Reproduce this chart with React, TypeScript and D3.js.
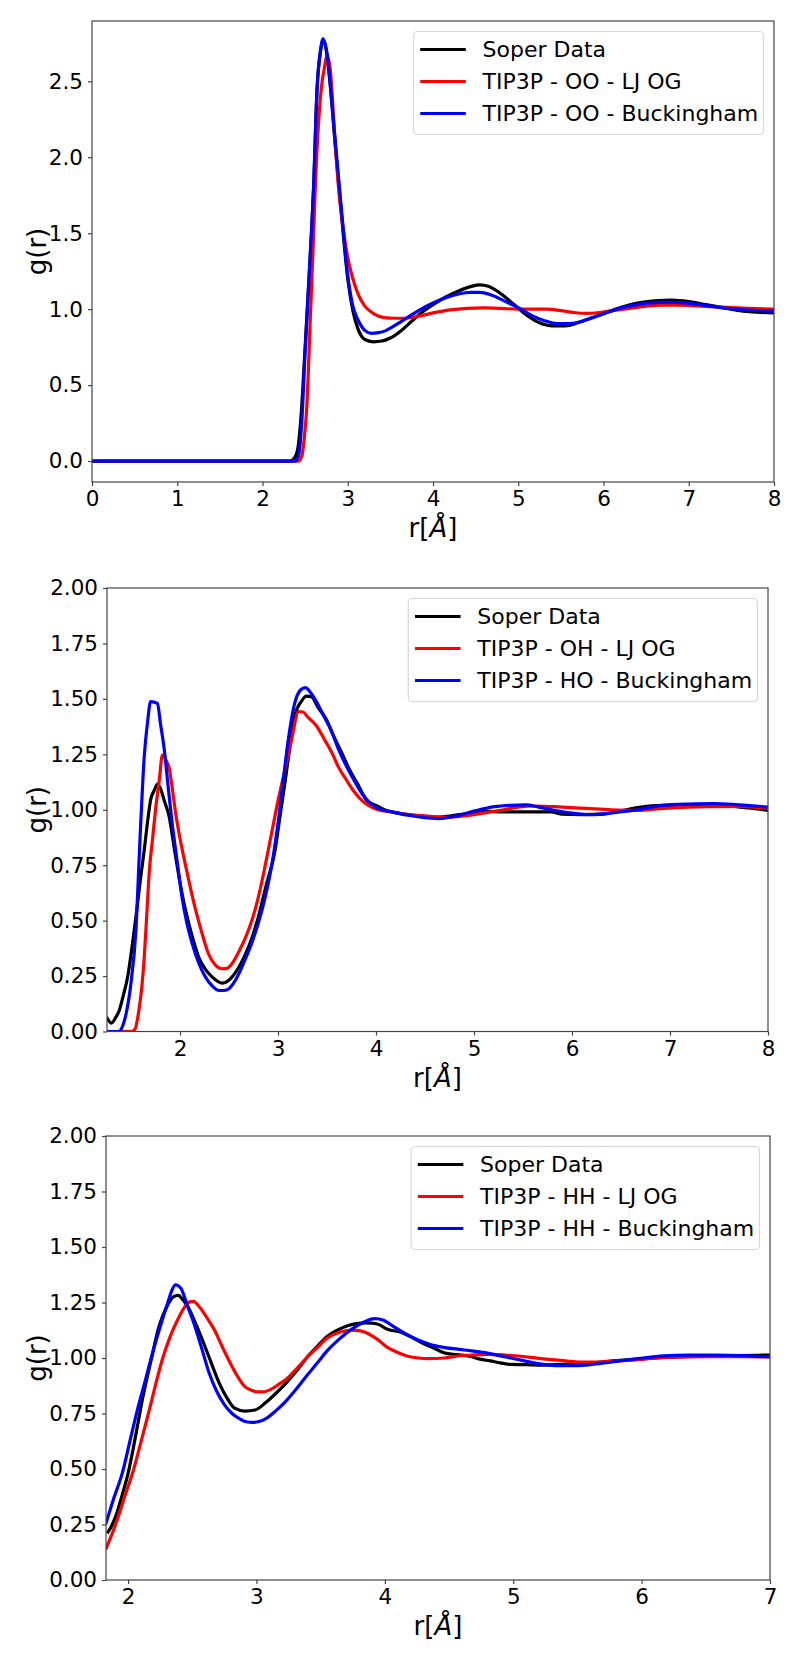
import React, { useRef, useEffect } from 'react';
import * as d3 from 'd3';

// O-O radial distribution
const ooSoper = [[0,0],[2.32,0],[2.36,0.01],[2.41,0.07],[2.45,0.28],[2.5,0.75],[2.55,1.25],[2.6,1.81],[2.64,2.45],[2.68,2.7],[2.71,2.77],[2.75,2.7],[2.79,2.5],[2.85,2.1],[2.93,1.6],[3.0,1.2],[3.06,0.99],[3.12,0.87],[3.2,0.8],[3.3,0.785],[3.4,0.79],[3.5,0.81],[3.63,0.86],[3.75,0.92],[3.85,0.97],[4.0,1.03],[4.15,1.08],[4.3,1.12],[4.45,1.15],[4.55,1.16],[4.65,1.15],[4.8,1.1],[4.95,1.03],[5.1,0.96],[5.25,0.91],[5.4,0.89],[5.55,0.89],[5.7,0.91],[5.85,0.94],[6.0,0.97],[6.2,1.01],[6.4,1.04],[6.6,1.055],[6.8,1.06],[7.0,1.05],[7.2,1.03],[7.4,1.01],[7.6,0.99],[7.8,0.98],[8.0,0.975]];
const ooLJ = [[0,0],[2.42,0],[2.46,0.03],[2.49,0.15],[2.52,0.36],[2.56,0.93],[2.6,1.5],[2.62,1.81],[2.66,2.25],[2.7,2.5],[2.72,2.57],[2.76,2.67],[2.8,2.55],[2.84,2.2],[2.89,1.81],[2.95,1.52],[3.0,1.34],[3.05,1.22],[3.12,1.1],[3.2,1.02],[3.28,0.98],[3.36,0.955],[3.45,0.943],[3.55,0.94],[3.65,0.94],[3.8,0.95],[4.0,0.975],[4.2,0.995],[4.4,1.005],[4.6,1.008],[4.8,1.005],[5.0,1.0],[5.2,1.0],[5.35,1.0],[5.5,0.99],[5.65,0.978],[5.8,0.972],[5.95,0.978],[6.1,0.99],[6.3,1.005],[6.5,1.02],[6.7,1.027],[6.9,1.027],[7.1,1.022],[7.3,1.015],[7.5,1.01],[7.7,1.005],[8.0,1.0]];
const ooBuck = [[0,0],[2.38,0],[2.42,0.03],[2.46,0.25],[2.5,0.72],[2.55,1.25],[2.6,1.81],[2.64,2.45],[2.68,2.7],[2.71,2.78],[2.76,2.67],[2.78,2.57],[2.85,2.13],[2.93,1.63],[3.0,1.22],[3.06,1.02],[3.12,0.93],[3.2,0.86],[3.28,0.84],[3.36,0.845],[3.44,0.857],[3.53,0.885],[3.63,0.92],[3.73,0.955],[3.83,0.99],[4.0,1.04],[4.15,1.075],[4.3,1.1],[4.45,1.11],[4.55,1.11],[4.7,1.09],[4.85,1.05],[5.0,1.01],[5.15,0.96],[5.3,0.925],[5.45,0.905],[5.6,0.905],[5.75,0.92],[5.9,0.95],[6.05,0.98],[6.25,1.015],[6.45,1.035],[6.65,1.045],[6.85,1.045],[7.05,1.035],[7.25,1.02],[7.45,1.005],[7.65,0.995],[7.85,0.99],[8.0,0.985]];

// O-H radial distribution
const ohSoper = [[1.25,0.065],[1.3,0.038],[1.34,0.06],[1.38,0.095],[1.42,0.16],[1.465,0.245],[1.51,0.38],[1.55,0.517],[1.6,0.7],[1.635,0.818],[1.67,0.95],[1.7,1.044],[1.74,1.09],[1.77,1.116],[1.8,1.096],[1.84,1.04],[1.89,0.968],[1.94,0.83],[1.99,0.697],[2.04,0.58],[2.09,0.486],[2.14,0.405],[2.19,0.336],[2.26,0.28],[2.33,0.245],[2.43,0.218],[2.48,0.225],[2.53,0.245],[2.6,0.29],[2.67,0.351],[2.74,0.43],[2.8,0.517],[2.88,0.66],[2.97,0.818],[3.02,0.97],[3.07,1.119],[3.12,1.28],[3.17,1.42],[3.24,1.49],[3.29,1.512],[3.34,1.51],[3.41,1.46],[3.49,1.41],[3.57,1.33],[3.65,1.257],[3.73,1.18],[3.81,1.118],[3.91,1.04],[4.0,1.02],[4.12,0.994],[4.22,0.985],[4.33,0.978],[4.46,0.972],[4.59,0.966],[4.72,0.97],[4.85,0.978],[4.98,0.985],[5.11,0.994],[5.25,0.99],[5.37,0.99],[5.55,0.99],[5.79,0.99],[5.89,0.98],[6.1,0.978],[6.31,0.98],[6.5,0.995],[6.67,1.01],[6.93,1.02],[7.2,1.02],[7.56,1.017],[7.8,1.008],[8.0,0.997]];
const ohLJ = [[1.25,0],[1.5,0],[1.54,0.01],[1.58,0.095],[1.61,0.2],[1.635,0.336],[1.66,0.52],[1.685,0.712],[1.72,0.87],[1.753,1.01],[1.79,1.14],[1.82,1.247],[1.86,1.22],[1.89,1.187],[1.92,1.1],[1.956,0.983],[2.0,0.87],[2.06,0.742],[2.11,0.64],[2.16,0.547],[2.22,0.45],[2.29,0.351],[2.36,0.3],[2.43,0.283],[2.48,0.285],[2.53,0.306],[2.6,0.36],[2.67,0.426],[2.74,0.51],[2.8,0.607],[2.87,0.75],[2.94,0.907],[3.0,1.04],[3.07,1.178],[3.14,1.32],[3.21,1.443],[3.26,1.44],[3.3,1.42],[3.39,1.38],[3.47,1.32],[3.55,1.257],[3.62,1.19],[3.7,1.133],[3.78,1.08],[3.86,1.04],[3.94,1.015],[4.02,1.0],[4.17,0.99],[4.33,0.978],[4.5,0.972],[4.74,0.966],[4.9,0.972],[5.11,0.986],[5.3,1.0],[5.45,1.012],[5.63,1.017],[5.9,1.012],[6.15,1.006],[6.4,1.0],[6.67,0.997],[6.9,1.005],[7.19,1.012],[7.45,1.014],[7.71,1.015],[8.0,1.006]];
const hoBuck = [[1.25,0],[1.38,0],[1.41,0.02],[1.45,0.08],[1.5,0.22],[1.55,0.456],[1.59,0.85],[1.635,1.24],[1.67,1.4],[1.7,1.488],[1.77,1.48],[1.8,1.39],[1.84,1.27],[1.88,1.1],[1.92,0.938],[1.97,0.77],[2.02,0.607],[2.07,0.49],[2.125,0.396],[2.19,0.31],[2.26,0.245],[2.33,0.205],[2.4,0.185],[2.45,0.185],[2.5,0.193],[2.55,0.22],[2.6,0.26],[2.66,0.32],[2.73,0.396],[2.8,0.49],[2.87,0.607],[2.94,0.76],[3.0,0.938],[3.05,1.12],[3.1,1.3],[3.17,1.48],[3.23,1.54],[3.28,1.551],[3.33,1.53],[3.39,1.489],[3.47,1.42],[3.55,1.35],[3.62,1.27],[3.7,1.195],[3.78,1.13],[3.86,1.071],[3.94,1.03],[4.02,1.006],[4.17,0.99],[4.33,0.975],[4.48,0.965],[4.64,0.96],[4.8,0.97],[5.0,0.994],[5.21,1.014],[5.37,1.02],[5.53,1.022],[5.66,1.012],[5.79,1.0],[6.0,0.985],[6.2,0.978],[6.45,0.988],[6.67,1.0],[6.85,1.015],[6.98,1.022],[7.2,1.026],[7.45,1.028],[7.7,1.022],[8.0,1.012]];

// H-H radial distribution
const hhSoper = [[1.837,0.21],[1.877,0.25],[1.917,0.31],[1.956,0.387],[2.0,0.48],[2.036,0.58],[2.075,0.7],[2.115,0.823],[2.155,0.93],[2.195,1.03],[2.23,1.12],[2.27,1.19],[2.31,1.24],[2.35,1.274],[2.39,1.282],[2.43,1.26],[2.47,1.226],[2.53,1.15],[2.59,1.065],[2.65,0.975],[2.71,0.887],[2.77,0.82],[2.83,0.774],[2.91,0.761],[2.99,0.766],[3.07,0.798],[3.15,0.84],[3.23,0.887],[3.31,0.94],[3.39,1.0],[3.47,1.05],[3.55,1.097],[3.63,1.125],[3.71,1.145],[3.78,1.155],[3.86,1.158],[3.94,1.153],[4.02,1.13],[4.14,1.113],[4.22,1.09],[4.3,1.065],[4.38,1.045],[4.46,1.024],[4.56,1.015],[4.66,1.008],[4.74,0.995],[4.82,0.987],[4.9,0.978],[4.98,0.971],[5.1,0.97],[5.22,0.968],[5.37,0.971],[5.57,0.976],[5.77,0.987],[6.01,0.997],[6.17,1.003],[6.49,1.008],[6.73,1.011],[7.0,1.013]];
const hhLJ = [[1.825,0.137],[1.87,0.2],[1.917,0.274],[1.976,0.38],[2.036,0.484],[2.095,0.61],[2.155,0.742],[2.21,0.87],[2.27,1.0],[2.33,1.1],[2.39,1.177],[2.43,1.22],[2.47,1.25],[2.51,1.255],[2.55,1.234],[2.61,1.185],[2.67,1.129],[2.73,1.055],[2.79,0.984],[2.85,0.92],[2.91,0.871],[2.96,0.855],[3.01,0.847],[3.06,0.848],[3.11,0.858],[3.17,0.88],[3.23,0.903],[3.31,0.95],[3.39,1.0],[3.47,1.045],[3.55,1.089],[3.64,1.115],[3.74,1.126],[3.8,1.123],[3.86,1.113],[3.94,1.085],[4.02,1.048],[4.1,1.025],[4.18,1.008],[4.26,1.0],[4.34,0.997],[4.46,1.0],[4.58,1.01],[4.7,1.014],[4.82,1.016],[4.94,1.013],[5.06,1.008],[5.2,0.998],[5.37,0.989],[5.57,0.981],[5.77,0.985],[5.97,0.992],[6.17,1.003],[6.57,1.006],[7.0,1.005]];
const hhBuck = [[1.825,0.25],[1.89,0.37],[1.956,0.484],[2.016,0.63],[2.076,0.774],[2.135,0.9],[2.195,1.032],[2.255,1.15],[2.314,1.258],[2.345,1.31],[2.37,1.33],[2.41,1.315],[2.46,1.24],[2.51,1.161],[2.57,1.05],[2.63,0.935],[2.69,0.85],[2.75,0.79],[2.81,0.75],[2.87,0.726],[2.92,0.713],[2.97,0.71],[3.02,0.714],[3.07,0.726],[3.15,0.762],[3.23,0.806],[3.31,0.86],[3.39,0.919],[3.47,0.975],[3.55,1.032],[3.64,1.083],[3.74,1.129],[3.83,1.16],[3.92,1.177],[3.99,1.17],[4.06,1.145],[4.16,1.11],[4.26,1.081],[4.36,1.06],[4.46,1.048],[4.62,1.036],[4.78,1.024],[4.88,1.012],[4.98,1.0],[5.08,0.988],[5.18,0.976],[5.28,0.968],[5.37,0.965],[5.47,0.965],[5.57,0.968],[5.77,0.982],[5.97,0.997],[6.17,1.01],[6.37,1.013],[6.57,1.013],[7.0,1.005]];

const xTicksOO = [0, 1, 2, 3, 4, 5, 6, 7, 8];
const yTicksOO = [0, 0.5, 1.0, 1.5, 2.0, 2.5];
const xTicksOH = [2, 3, 4, 5, 6, 7, 8];
const xTicksHH = [2, 3, 4, 5, 6, 7];
const yTicks2 = [0, 0.25, 0.5, 0.75, 1.0, 1.25, 1.5, 1.75, 2.0];

const panels = [
  { box: [92, 774, 21, 482], xDom: [0, 8], yDom: [-0.138, 2.897], xTicks: xTicksOO, yTicks: yTicksOO, fmt: '.1f',
    series: [{ data: ooSoper, color: 'black', label: 'Soper Data' }, { data: ooLJ, color: 'red', label: 'TIP3P - OO - LJ OG' }, { data: ooBuck, color: 'blue', label: 'TIP3P - OO - Buckingham' }] },
  { box: [107, 768, 588, 1031.5], xDom: [1.255, 8], yDom: [0, 2], xTicks: xTicksOH, yTicks: yTicks2, fmt: '.2f',
    series: [{ data: ohSoper, color: 'black', label: 'Soper Data' }, { data: ohLJ, color: 'red', label: 'TIP3P - OH - LJ OG' }, { data: hoBuck, color: 'blue', label: 'TIP3P - HO - Buckingham' }] },
  { box: [106, 770, 1136, 1580], xDom: [1.828, 7], yDom: [0, 2], xTicks: xTicksHH, yTicks: yTicks2, fmt: '.2f',
    series: [{ data: hhSoper, color: 'black', label: 'Soper Data' }, { data: hhLJ, color: 'red', label: 'TIP3P - HH - LJ OG' }, { data: hhBuck, color: 'blue', label: 'TIP3P - HH - Buckingham' }] },
];

const FONT = 'DejaVu Sans, sans-serif';

const App = () => {
  const svgRef = useRef(null);

  useEffect(() => {
    const svg = d3.select(svgRef.current);
    svg.selectAll('*').remove();

    panels.forEach((p, i) => {
      const [left, right, top, bottom] = p.box;
      const x = d3.scaleLinear().domain(p.xDom).range([left, right]);
      const y = d3.scaleLinear().domain(p.yDom).range([bottom, top]);
      const g = svg.append('g');

      g.append('clipPath').attr('id', `clip${i}`)
        .append('rect').attr('x', left).attr('y', top).attr('width', right - left).attr('height', bottom - top);

      const line = d3.line().x(d => x(d[0])).y(d => y(d[1])).curve(d3.curveMonotoneX);
      g.append('g').attr('clip-path', `url(#clip${i})`)
        .selectAll('path').data(p.series).enter().append('path')
        .attr('d', d => line(d.data))
        .attr('fill', 'none')
        .attr('stroke', d => d.color)
        .attr('stroke-width', 3.2)
        .attr('stroke-linejoin', 'round');

      const xAxis = g.append('g').attr('transform', `translate(0,${bottom})`)
        .call(d3.axisBottom(x).tickValues(p.xTicks).tickFormat(d3.format('d')).tickSizeOuter(0).tickSize(4).tickPadding(5));
      const yAxis = g.append('g').attr('transform', `translate(${left},0)`)
        .call(d3.axisLeft(y).tickValues(p.yTicks).tickFormat(d3.format(p.fmt)).tickSizeOuter(0).tickSize(4).tickPadding(5));
      [xAxis, yAxis].forEach(a => {
        a.select('.domain').remove();
        a.selectAll('line').attr('stroke', '#444').attr('stroke-width', 1.2);
        a.selectAll('text').attr('font-family', FONT).attr('font-size', 21.5).attr('fill', 'black');
      });

      g.append('rect').attr('x', left).attr('y', top).attr('width', right - left).attr('height', bottom - top)
        .attr('fill', 'none').attr('stroke', '#444').attr('stroke-width', 1.2);

      const xl = g.append('text').attr('x', (left + right) / 2).attr('y', bottom + 55)
        .attr('text-anchor', 'middle').attr('font-family', FONT).attr('font-size', 26);
      xl.append('tspan').text('r[');
      xl.append('tspan').attr('font-style', 'italic').text('Å');
      xl.append('tspan').text(']');

      g.append('text').attr('transform', `translate(46,${(top + bottom) / 2}) rotate(-90)`)
        .attr('text-anchor', 'middle').attr('font-family', FONT).attr('font-size', 26).text('g(r)');

      // legend
      const leg = g.append('g');
      const box = leg.append('rect');
      const texts = p.series.map((s, k) => {
        const cy = top + 10.5 + 18 + k * 32;
        leg.append('line').attr('x1', 0).attr('x2', 45.6).attr('y1', cy).attr('y2', cy)
          .attr('stroke', s.color).attr('stroke-width', 3.2);
        return leg.append('text').attr('x', 62.3).attr('y', cy).attr('dy', '0.36em')
          .attr('font-family', FONT).attr('font-size', 22).text(s.label);
      });
      const tw = d3.max(texts, t => t.node().getComputedTextLength());
      const w = 62.3 + tw + 12;
      const lx = right - 10.5 - w;
      leg.selectAll('line').attr('transform', `translate(${lx + 6.7},0)`);
      leg.selectAll('text').attr('transform', `translate(${lx + 6.7},0)`);
      box.attr('x', lx).attr('y', top + 10.5).attr('width', w).attr('height', 103)
        .attr('rx', 4).attr('fill', 'white').attr('fill-opacity', 0.8)
        .attr('stroke', '#d6d6d6').attr('stroke-width', 1.2);
    });
  }, []);

  return (
    <svg ref={svgRef} width="800" height="1664" style={{ position: 'absolute', left: 0, top: 0, background: 'white' }}></svg>
  );
};

export default App;
